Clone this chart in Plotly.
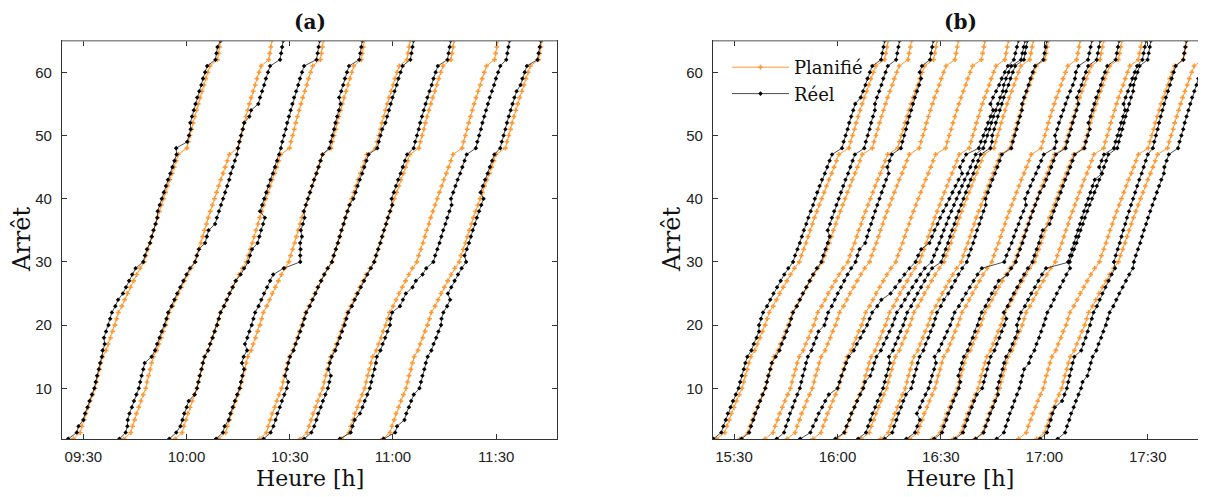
import numpy as np
import pandas as pd
import plotly.graph_objects as go

# ---------------- data ----------------
stops = list(range(2, 66))

# planned inter-stop run times (min), stop 2->3 ... 64->65 (shape of the orange trajectories)
plan_incr = [2.0, 0.5, 0.6, 0.5, 0.7, 0.6, 0.7, 0.7, 0.4, 0.4, 0.5, 0.4, 0.5,
             1.0, 0.6, 0.7, 0.6, 0.7, 0.5, 0.5, 1.0, 0.8, 0.8, 0.9, 0.9, 0.9, 1.0,
             1.2, 0.5, 0.6, 0.6, 0.5, 0.5, 0.6, 0.5, 0.6, 0.6, 0.6,
             0.6, 0.6, 0.6, 0.7, 0.6, 0.6, 0.6, 2.5, 0.4,
             0.5, 0.5, 0.4, 0.5, 0.5, 0.5, 0.5, 0.6, 0.6, 0.5, 0.6, 0.6, 2.2, 0.3, 0.3, 0.3]

# panel (a) planned trips: departure at stop 2, arrival at stop 65
planned_dep_a = ["09:27:06", "09:41:48", "09:56:42", "10:09:24", "10:21:12", "10:33:00", "10:45:06", "10:57:00"]
planned_arr_a = ["10:09:54", "10:24:48", "10:39:48", "10:51:42", "11:05:00", "11:17:48", "11:30:30", "11:43:18"]

# panel (a) real trips: deviation (min) from the planned trip, changing at the listed stops
real_dev_stops_a = [
    [2, 3, 5, 16, 18, 25, 30, 33, 38, 48, 49, 52, 62, 65],
    [2, 3, 5, 15, 20, 30, 33, 36, 44, 48, 53, 55, 62],
    [2, 4, 9, 28, 33, 38, 48, 62],
    [2, 5, 14, 17, 29, 30, 31, 32, 33, 35, 38, 48, 56, 62],
    [2, 4, 12, 26, 40, 52],
    [2, 4, 13, 30, 40, 48, 62],
    [2, 3, 6, 15, 21, 23, 26, 28, 30, 40, 62],
    [2, 3, 5, 10, 21, 25, 31, 41, 48, 58, 62],
]
real_dev_vals_a = [
    [-1.5, -1.0, -0.2, -1.0, -1.9, -1.3, -0.3, 0.0, -0.5, -3.1, -0.3, -0.8, -0.6, 0.0],
    [-1.3, -1.5, -2.0, -0.5, -0.3, 0.0, 1.2, 2.5, 2.2, 0.0, 1.0, 2.6, 3.3],
    [-1.7, -1.0, 0.0, 0.5, 1.5, -0.5, -2.5, -1.1],
    [-0.8, -0.2, -1.2, -2.4, -0.3, 3.3, 2.8, 2.3, 1.6, 0.8, 0.0, -0.5, -1.4, -0.6],
    [1.2, 1.5, 0.2, 0.0, 0.5, 1.0],
    [1.2, 1.5, 0.3, 0.0, -0.8, -1.5, -1.0],
    [-0.5, 0.5, 1.5, 1.2, 0.8, 2.0, 3.0, 4.0, 4.8, 4.0, 3.4],
    [0.3, 1.5, 3.0, 3.9, 3.5, 2.0, 1.0, -0.5, -1.5, -1.0, -0.3],
]

# panel (b) planned trips
planned_dep_b = ["15:25:00", "15:31:42", "15:39:00", "15:45:24", "15:52:54", "15:59:54", "16:06:54",
                 "16:12:30", "16:21:00", "16:27:30", "16:33:36", "16:39:54", "16:52:30", "16:57:48"]
planned_arr_b = ["16:14:42", "16:21:30", "16:28:54", "16:35:06", "16:42:48", "16:49:36", "16:56:48",
                 "17:01:12", "17:10:24", "17:17:12", "17:22:30", "17:28:18", "17:41:18", "17:47:00"]

# panel (b) real trips: departure / arrival and deviations (min) at the listed stops
real_dep_b = ["15:24:00", "15:32:12", "15:42:24", "15:49:12", "15:59:24", "16:06:00", "16:13:42",
              "16:20:00", "16:28:06", "16:34:12", "16:40:06", "16:46:12", "16:58:48", "17:03:54"]
real_arr_b = ["16:13:42", "16:19:00", "16:27:48", "16:52:30", "16:54:24", "16:55:06", "17:00:42",
              "17:13:48", "17:16:12", "17:21:42", "17:29:30", "17:30:54", "17:41:12", "17:49:48"]
real_dev_stops_b = [
    [2, 20, 40, 56],
    [2, 15, 35, 55],
    [2, 20, 33, 45, 60],
    [2, 10, 25, 33, 45, 55, 62],
    [2, 12, 30, 48, 58],
    [2, 15, 30, 50],
    [2, 10, 25, 40, 55],
    [2, 6, 15, 30, 40, 50, 60],
    [2, 12, 28, 42, 56],
    [2, 10, 22, 36, 52],
    [2, 10, 20, 30, 45, 55, 62],
    [2, 14, 30, 44, 58],
    [2, 8, 16, 30, 48],
    [2, 12, 30, 45],
]
real_dev_vals_b = [
    [0.0, -0.8, -1.0, 0.0],
    [0.0, 0.6, -0.5, -1.0],
    [0.0, 1.0, 2.0, 1.0, 0.0],
    [0.0, 1.5, 3.0, 4.5, 3.0, 1.5, 0.0],
    [0.0, 1.0, 1.5, 0.5, 0.0],
    [0.0, -0.8, 0.5, 0.0],
    [0.0, 0.8, 1.2, 0.5, 0.0],
    [0.0, -1.5, -2.5, 2.5, 1.5, 0.5, 0.0],
    [0.0, -1.0, 0.5, 1.0, 0.0],
    [0.0, 0.8, -0.5, 0.8, 0.0],
    [0.0, -1.0, -2.0, 3.5, 2.0, 1.0, 0.0],
    [0.0, 1.0, -0.8, 0.5, 0.0],
    [0.0, 1.5, 2.5, 1.0, 0.0],
    [0.0, 1.0, 0.0, -0.5],
]

x_tick_labels_a = ["09:30", "10:00", "10:30", "11:00", "11:30"]
x_tick_labels_b = ["15:30", "16:00", "16:30", "17:00", "17:30"]
y_ticks = [10, 20, 30, 40, 50, 60]

# ---------------- helpers ----------------
DAY = pd.Timestamp("2000-01-01")
cum = np.concatenate([[0.0], np.cumsum(plan_incr)])
frac = cum / cum[-1]


def tmin(s):
    h, m, sec = [int(v) for v in s.split(":")]
    return h * 60 + m + sec / 60.0


def to_ts(mins):
    return [DAY + pd.Timedelta(minutes=float(v)) for v in mins]


def trip(dep, arr):
    d, a = tmin(dep), tmin(arr)
    return d + frac * (a - d)


def dev_series(st, vals):
    out = np.zeros(len(stops))
    for i, s in enumerate(stops):
        v = vals[0]
        for cs, cv in zip(st, vals):
            if cs <= s:
                v = cv
        out[i] = v
    return out


ORANGE = "#FF9933"
BLACK = "#000000"

fig = go.Figure()


def add(xm, axis, color, width, symbol, msize, name, show):
    fig.add_trace(go.Scatter(
        x=to_ts(xm), y=stops, mode="lines+markers", xaxis=axis[0], yaxis=axis[1],
        line=dict(color=color, width=width),
        marker=dict(symbol=symbol, size=msize, color=color),
        name=name, legendgroup=name, showlegend=show))


# panel (a)
plan_a = [trip(d, a) for d, a in zip(planned_dep_a, planned_arr_a)]
for p in plan_a:
    add(p, ("x", "y"), ORANGE, 1.0, "cross", 4, "Planifié", False)
for p, st, vals in zip(plan_a, real_dev_stops_a, real_dev_vals_a):
    add(p + dev_series(st, vals), ("x", "y"), BLACK, 0.7, "diamond", 3.5, "Réel", False)

# panel (b)
for i, (d, a) in enumerate(zip(planned_dep_b, planned_arr_b)):
    add(trip(d, a), ("x2", "y2"), ORANGE, 1.0, "cross", 4, "Planifié", i == 0)
for i, (d, a, st, vals) in enumerate(zip(real_dep_b, real_arr_b, real_dev_stops_b, real_dev_vals_b)):
    add(trip(d, a) + dev_series(st, vals), ("x2", "y2"), BLACK, 0.7, "diamond", 3.5, "Réel", i == 0)

# page body has an 8 px margin: map reference pixel positions to paper coordinates
OFF = 8
W, H = 1206 - OFF, 497 - OFF


def px(x):
    return (x - OFF) / W


def py(y):
    return 1 - (y - OFF) / H


ydom = [py(439.3), py(40.7)]
tickfont = dict(family="Liberation Sans, Arial, sans-serif", size=15, color="#222")
serif = "DejaVu Serif, serif"


def xaxis(dom, rng, labels):
    return dict(domain=dom, type="date", range=rng,
                tickvals=["2000-01-01 " + t for t in labels], ticktext=labels,
                ticks="inside", ticklen=5, tickcolor="#333", mirror="ticks",
                showline=True, linecolor="#333", linewidth=1.2, showgrid=False,
                zeroline=False, tickfont=tickfont, ticklabelstandoff=4)


def yaxis(anchor):
    return dict(domain=ydom, anchor=anchor, range=[1.93, 65], tickvals=y_ticks,
                ticks="inside", ticklen=5, tickcolor="#333", mirror="ticks",
                showline=True, linecolor="#333", linewidth=1.2, showgrid=False,
                zeroline=False, tickfont=tickfont, ticklabelstandoff=6)


fig.update_layout(
    width=W, height=H, margin=dict(l=0, r=0, t=0, b=0),
    paper_bgcolor="white", plot_bgcolor="white",
    xaxis=dict(anchor="y", **xaxis([px(62), px(557)],
                                   ["2000-01-01 09:23:48", "2000-01-01 11:47:42"], x_tick_labels_a)),
    yaxis=yaxis("x"),
    xaxis2=dict(anchor="y2", **xaxis([px(713), 1.0],
                                     ["2000-01-01 15:23:54", "2000-01-01 17:46:54"], x_tick_labels_b)),
    yaxis2=yaxis("x2"),
    legend=dict(x=px(727), y=py(49), xanchor="left", yanchor="top",
                bgcolor="rgba(0,0,0,0)", font=dict(family=serif, size=18, color="#111"),
                itemwidth=57, tracegroupgap=0),
    showlegend=True,
)

# top frame line is gray in the original
for xr, yr in (("x domain", "y domain"), ("x2 domain", "y2 domain")):
    fig.add_shape(type="line", xref=xr, yref=yr, x0=0, x1=1, y0=1, y1=1,
                  line=dict(color="#8c8c8c", width=1.6), layer="above")

ann = [
    dict(text="<b>(a)</b>", x=px(310), y=1.0, yanchor="top", font=dict(family=serif, size=20, color="#111")),
    dict(text="<b>(b)</b>", x=px(960), y=1.0, yanchor="top", font=dict(family=serif, size=20, color="#111")),
    dict(text="Heure [h]", x=px(310), y=py(478), yanchor="middle", font=dict(family=serif, size=22, color="#111")),
    dict(text="Heure [h]", x=px(960), y=py(478), yanchor="middle", font=dict(family=serif, size=22, color="#111")),
    dict(text="Arrêt", x=px(22), y=py(240), yanchor="middle", textangle=-90, font=dict(family=serif, size=24, color="#111")),
    dict(text="Arrêt", x=px(672), y=py(240), yanchor="middle", textangle=-90, font=dict(family=serif, size=24, color="#111")),
]
for a in ann:
    fig.add_annotation(xref="paper", yref="paper", showarrow=False,
                       xanchor="center", **a)

fig.write_html("out.html")
